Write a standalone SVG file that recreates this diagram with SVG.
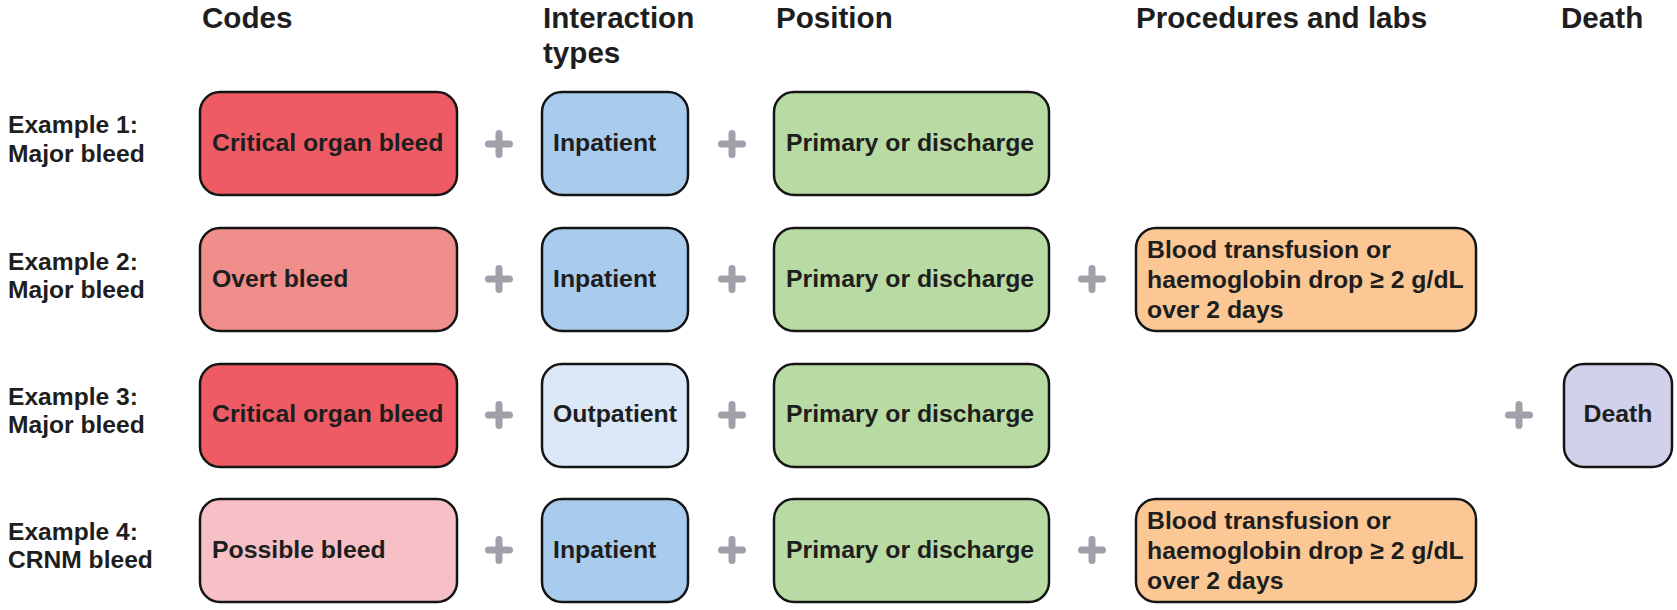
<svg xmlns="http://www.w3.org/2000/svg" xmlns:xlink="http://www.w3.org/1999/xlink" width="1677" height="610" viewBox="0 0 1677 610">
<style>
text{font-family:"Liberation Sans",Arial,sans-serif;font-weight:bold;fill:#1e1e1e}
.hd{font-size:29.6px}
.lb{font-size:24.6px}
.bt{font-size:24.8px}
.box{stroke:#151515;stroke-width:2.5}
.crit{fill:#EE5B64}
.overt{fill:#F08E8C}
.poss{fill:#F7C0C6}
.inp{fill:#A8CBEE}
.outp{fill:#DAE8F8}
.pos{fill:#B8DBA4}
.proc{fill:#FBC895}
.death{fill:#D1D1EB}
.plus{stroke:#A0A0AA;stroke-width:7;stroke-linecap:round;fill:none}
</style>
<defs>
<symbol id="plus" overflow="visible">
<path class="plus" d="M-10.5,0H10.5M0,-10.5V10.5"/>
</symbol>
</defs>
<rect width="1677" height="610" fill="#ffffff"/>

<g id="headers">
<text class="hd" x="202" y="28">Codes</text>
<text class="hd" x="543" y="28">Interaction</text>
<text class="hd" x="543" y="63">types</text>
<text class="hd" x="776" y="28">Position</text>
<text class="hd" x="1136" y="28">Procedures and labs</text>
<text class="hd" x="1561" y="28">Death</text>
</g>

<g id="row-labels">
<text class="lb" x="8" y="133">Example 1:</text>
<text class="lb" x="8" y="162">Major bleed</text>
<text class="lb" x="8" y="270">Example 2:</text>
<text class="lb" x="8" y="298">Major bleed</text>
<text class="lb" x="8" y="405">Example 3:</text>
<text class="lb" x="8" y="433">Major bleed</text>
<text class="lb" x="8" y="540">Example 4:</text>
<text class="lb" x="8" y="568">CRNM bleed</text>
</g>

<g id="r1-codes"><rect class="box crit" x="200" y="92" width="257" height="103" rx="20"/><text class="bt" x="212" y="151">Critical organ bleed</text></g>
<g id="r1-interaction"><rect class="box inp" x="542" y="92" width="146" height="103" rx="20"/><text class="bt" x="553" y="151">Inpatient</text></g>
<g id="r1-position"><rect class="box pos" x="774" y="92" width="275" height="103" rx="20"/><text class="bt" x="786" y="151">Primary or discharge</text></g>

<g id="r2-codes"><rect class="box overt" x="200" y="228" width="257" height="103" rx="20"/><text class="bt" x="212" y="287">Overt bleed</text></g>
<g id="r2-interaction"><rect class="box inp" x="542" y="228" width="146" height="103" rx="20"/><text class="bt" x="553" y="287">Inpatient</text></g>
<g id="r2-position"><rect class="box pos" x="774" y="228" width="275" height="103" rx="20"/><text class="bt" x="786" y="287">Primary or discharge</text></g>
<g id="r2-procedures"><rect class="box proc" x="1136" y="228" width="340" height="103" rx="20"/><text class="bt" x="1147" y="258">Blood transfusion or</text><text class="bt" x="1147" y="288">haemoglobin drop ≥ 2 g/dL</text><text class="bt" x="1147" y="318">over 2 days</text></g>

<g id="r3-codes"><rect class="box crit" x="200" y="364" width="257" height="103" rx="20"/><text class="bt" x="212" y="422">Critical organ bleed</text></g>
<g id="r3-interaction"><rect class="box outp" x="542" y="364" width="146" height="103" rx="20"/><text class="bt" x="553" y="422">Outpatient</text></g>
<g id="r3-position"><rect class="box pos" x="774" y="364" width="275" height="103" rx="20"/><text class="bt" x="786" y="422">Primary or discharge</text></g>
<g id="r3-death"><rect class="box death" x="1564" y="364" width="108" height="103" rx="20"/><text class="bt" x="1618" y="422" text-anchor="middle">Death</text></g>

<g id="r4-codes"><rect class="box poss" x="200" y="499" width="257" height="103" rx="20"/><text class="bt" x="212" y="558">Possible bleed</text></g>
<g id="r4-interaction"><rect class="box inp" x="542" y="499" width="146" height="103" rx="20"/><text class="bt" x="553" y="558">Inpatient</text></g>
<g id="r4-position"><rect class="box pos" x="774" y="499" width="275" height="103" rx="20"/><text class="bt" x="786" y="558">Primary or discharge</text></g>
<g id="r4-procedures"><rect class="box proc" x="1136" y="499" width="340" height="103" rx="20"/><text class="bt" x="1147" y="529">Blood transfusion or</text><text class="bt" x="1147" y="559">haemoglobin drop ≥ 2 g/dL</text><text class="bt" x="1147" y="589">over 2 days</text></g>

<g id="connectors">
<use xlink:href="#plus" x="499" y="144"/>
<use xlink:href="#plus" x="732" y="144"/>
<use xlink:href="#plus" x="499" y="279"/>
<use xlink:href="#plus" x="732" y="279"/>
<use xlink:href="#plus" x="1092" y="279"/>
<use xlink:href="#plus" x="499" y="415"/>
<use xlink:href="#plus" x="732" y="415"/>
<use xlink:href="#plus" x="1519" y="415"/>
<use xlink:href="#plus" x="499" y="550"/>
<use xlink:href="#plus" x="732" y="550"/>
<use xlink:href="#plus" x="1092" y="550"/>
</g>
</svg>
